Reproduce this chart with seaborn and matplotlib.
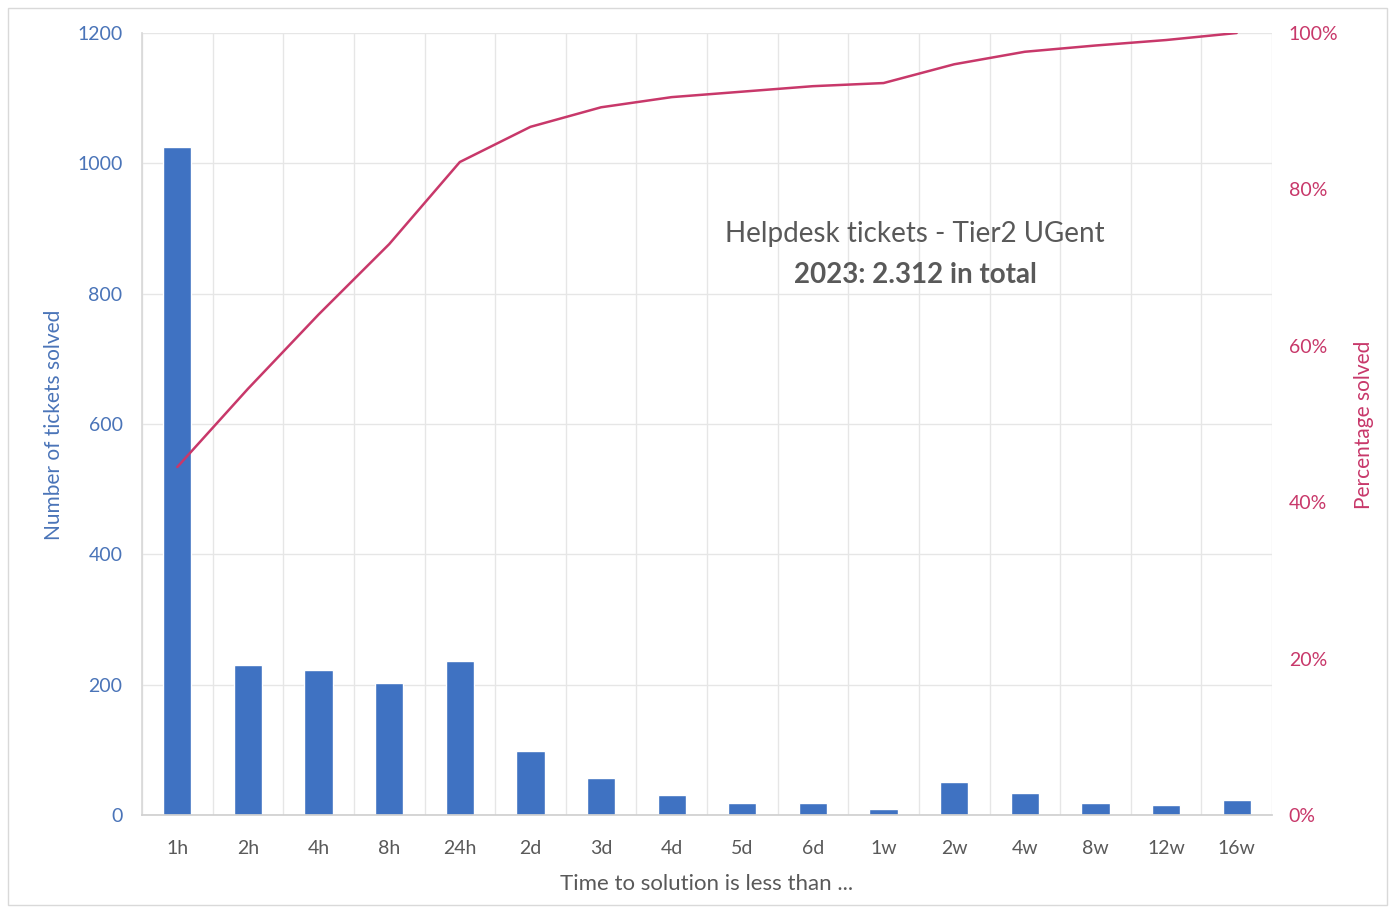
import numpy as np
import pandas as pd
import matplotlib
matplotlib.use("Agg")
import matplotlib.pyplot as plt
import seaborn as sns
from matplotlib.ticker import FuncFormatter, MultipleLocator

categories = ["1h", "2h", "4h", "8h", "24h", "2d", "3d", "4d", "5d", "6d",
              "1w", "2w", "4w", "8w", "12w", "16w"]
tickets = [1025, 230, 222, 202, 236, 98, 57, 31, 19, 19, 9, 51, 33, 19, 16, 23]
pct_solved = [44.5, 54.5, 64, 73, 83.5, 88, 90.5, 91.8, 92.5, 93.2, 93.6,
              96, 97.6, 98.4, 99.1, 100]

sns.set_theme(style="white")
plt.rcParams["font.family"] = ["Lato", "DejaVu Sans"]

BAR = "#3F72C2"
LINE = "#C8386A"
GREY = "#595959"
GRID = "#E6E6E6"

df = pd.DataFrame({"cat": categories, "tickets": tickets, "pct": pct_solved})

fig = plt.figure(figsize=(13.95, 9.13), dpi=100)
ax = fig.add_axes([142/1395, 1 - 815/913, (1272-142)/1395, (815-33)/913])

sns.barplot(data=df, x="cat", y="tickets", color=BAR, width=0.4,
            saturation=1, ax=ax)
ax.set_ylim(0, 1200)
ax.set_xlim(-0.5, len(categories) - 0.5)
ax.yaxis.set_major_locator(MultipleLocator(200))
ax.set_axisbelow(True)
ax.grid(axis="y", color=GRID, linewidth=1)
for i in range(len(categories) + 1):
    ax.axvline(i - 0.5, color=GRID, linewidth=1, zorder=0)
for s in ["top", "right"]:
    ax.spines[s].set_visible(False)
ax.spines["left"].set_color("#D9D9D9")
ax.spines["bottom"].set_color("#D0D0D0")
ax.tick_params(axis="y", colors="#4A74B8", labelsize=14, length=0, pad=14)
ax.tick_params(axis="x", colors=GREY, labelsize=14, length=0, pad=18)
ax.set_xlabel("Time to solution is less than ...", fontsize=16, color=GREY,
              labelpad=12)
ax.set_ylabel("Number of tickets solved", fontsize=15, color="#4A74B8")
ax.yaxis.set_label_coords((64-142)/(1272-142), (815-425)/(815-33))

ax2 = ax.twinx()
sns.lineplot(data=df, x="cat", y="pct", sort=False, color=LINE,
             linewidth=1.8, ax=ax2)
ax2.set_ylim(0, 100)
ax2.yaxis.set_major_locator(MultipleLocator(20))
ax2.yaxis.set_major_formatter(FuncFormatter(lambda v, p: f"{int(v)}%"))
ax2.tick_params(axis="y", colors=LINE, labelsize=14, length=0, pad=12)
for s in ["top", "right", "left", "bottom"]:
    ax2.spines[s].set_visible(False)
ax2.set_ylabel("Percentage solved", fontsize=15, color=LINE, rotation=90)
ax2.yaxis.set_label_coords((1354-142)/(1272-142), (815-425)/(815-33))
ax2.grid(False)

fig.text(915/1395, 1 - 234/913, "Helpdesk tickets - Tier2 UGent",
         ha="center", va="center", fontsize=20, color=GREY)
fig.text(915/1395, 1 - 275/913, "2023: 2.312 in total",
         ha="center", va="center", fontsize=20, color=GREY, fontweight="bold")

fig.patches.append(plt.Rectangle((8/1395, 8/913), 1 - 16/1395, 1 - 16/913,
                                 transform=fig.transFigure, fill=False,
                                 edgecolor="#D9D9D9", linewidth=1))

fig.savefig("out.png", dpi=100, facecolor="white")
